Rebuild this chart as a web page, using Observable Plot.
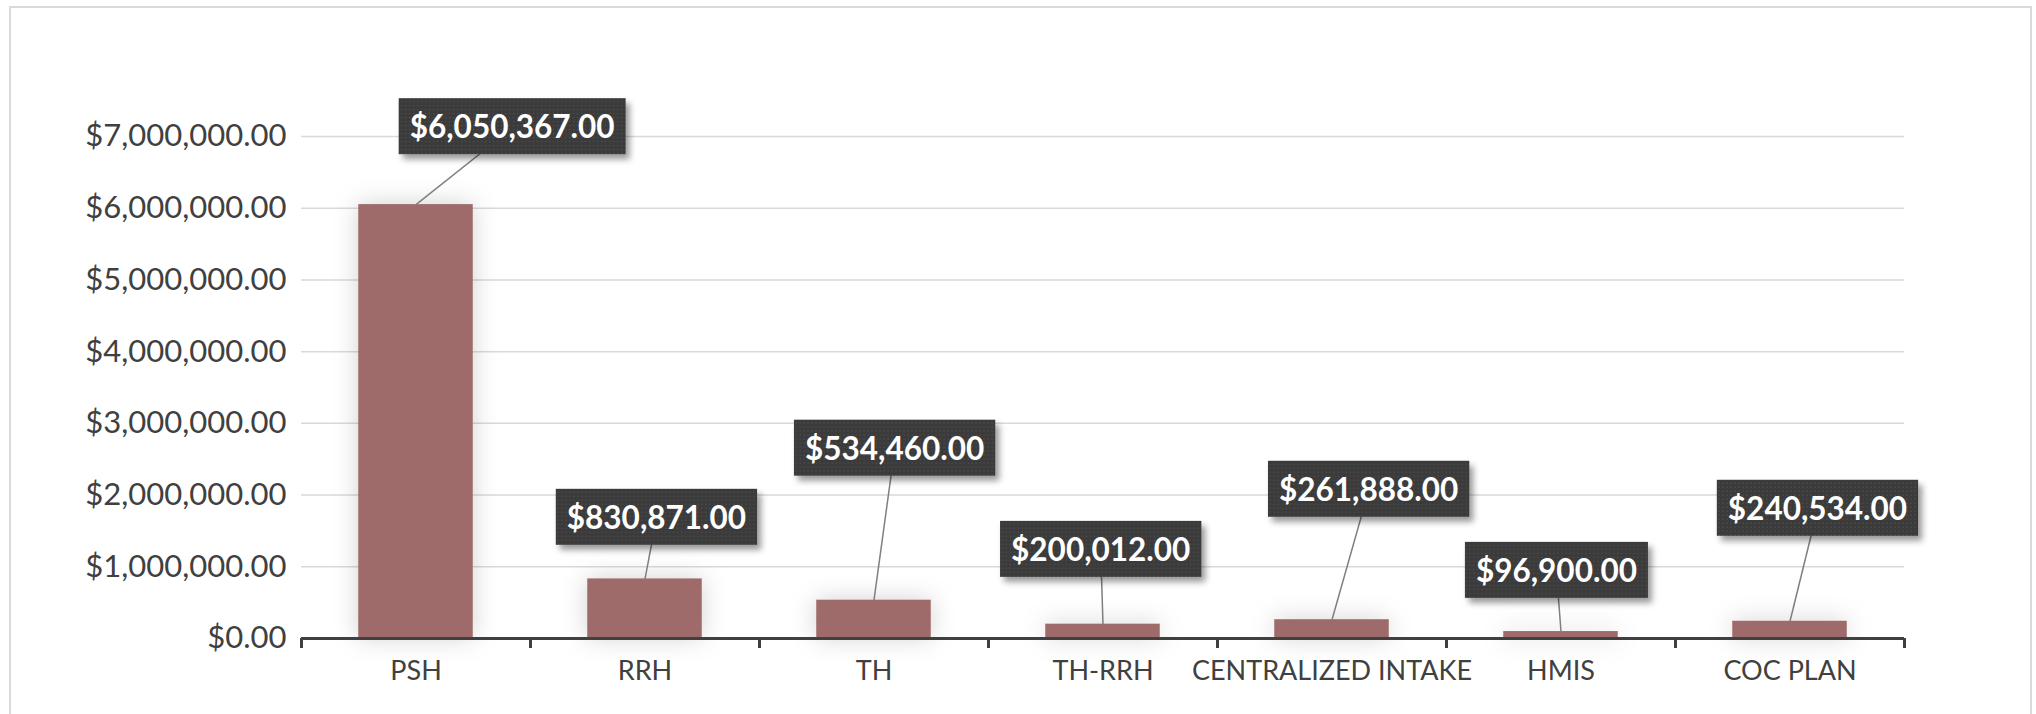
<!DOCTYPE html>
<html>
<head>
<meta charset="utf-8">
<script src="https://cdn.jsdelivr.net/npm/d3@7"></script>
<script src="https://cdn.jsdelivr.net/npm/@observablehq/plot@0.6"></script>
<style>
  html, body { margin: 0; padding: 0; background: #fff; overflow: hidden; }
  #wrap { position: relative; width: 2036px; height: 714px; }
  #frame { position: absolute; left: 9px; top: 6px; width: 2023px; height: 760px; border: 2px solid #d9d9d9; box-sizing: border-box; pointer-events: none; }
</style>
</head>
<body>
<div id="wrap"><div id="frame"></div></div>
<script>
// ---- data ----
const categories = ["PSH", "RRH", "TH", "TH-RRH", "CENTRALIZED INTAKE", "HMIS", "COC PLAN"];
const amounts = [6050367, 830871, 534460, 200012, 261888, 96900, 240534];
const yTicks = [0, 1000000, 2000000, 3000000, 4000000, 5000000, 6000000, 7000000];
// data-label placement (category units / dollar units), as placed in the source chart
const labelOffset = [0.42, 0.05, 0.09, -0.01, 0.16, -0.02, 0.12];
const labelLevel = [7117000, 1670000, 2634000, 1223000, 2061000, 930000, 1796000];

const money = d3.format("$,.2f");
const rows = categories.map((c, i) => ({
  i, category: c, amount: amounts[i],
  lx: i + labelOffset[i], ly: labelLevel[i]
}));
const bounds = d3.range(categories.length + 1).map(k => k - 0.5);

const chart = Plot.plot({
  width: 2036,
  height: 714,
  marginLeft: 301,
  marginRight: 132,
  marginTop: 136,
  marginBottom: 76,
  style: { fontFamily: "Lato, 'Open Sans', sans-serif", background: "transparent", color: "#595959" },
  x: { type: "linear", domain: [-0.5, categories.length - 0.5], axis: null },
  y: { type: "linear", domain: [0, 7000000], axis: null },
  marks: [
    Plot.gridY(yTicks.slice(1), { stroke: "#d9d9d9", strokeOpacity: 1, strokeWidth: 1.5 }),
    Plot.rect(rows, { x1: d => d.i - 0.25, x2: d => d.i + 0.25, y1: 0, y2: "amount", fill: "#9e6a6a" }),
    Plot.ruleY([0], { stroke: "#404040", strokeWidth: 3 }),
    Plot.ruleX(bounds, { y1: 0, y2: 0, insetBottom: -10, stroke: "#404040", strokeWidth: 3 }),
    Plot.axisX(d3.range(categories.length), {
      tickFormat: i => categories[i], tickSize: 0, tickPadding: 22,
      fontSize: 27, fill: "#404040", label: null
    }),
    Plot.axisY(yTicks, {
      tickFormat: money, tickSize: 0, tickPadding: 15,
      fontSize: 31, fill: "#404040", label: null
    }),
    Plot.link(rows, { x1: "lx", y1: "ly", x2: "i", y2: "amount", stroke: "#7f7f7f", strokeWidth: 1.5 }),
    Plot.text(rows, {
      x: "lx", y: "ly", text: d => money(d.amount),
      fill: "white", fontWeight: "bold", fontSize: 31.5
    })
  ]
});

document.getElementById("wrap").prepend(chart);

// defs: dotted label fill, shadows
const svg = d3.select(chart);
const defs = svg.insert("defs", ":first-child");
const pat = defs.append("pattern").attr("id", "dots").attr("width", 4).attr("height", 4)
  .attr("patternUnits", "userSpaceOnUse");
pat.append("rect").attr("width", 4).attr("height", 4).attr("fill", "#3a3a3a");
pat.append("rect").attr("x", 1).attr("y", 1).attr("width", 1).attr("height", 1).attr("fill", "#5a5a5a");
const f1 = defs.append("filter").attr("id", "boxShadow").attr("x", "-20%").attr("y", "-40%").attr("width", "150%").attr("height", "190%");
f1.append("feDropShadow").attr("dx", 4).attr("dy", 5).attr("stdDeviation", 3)
  .attr("flood-color", "#000").attr("flood-opacity", 0.4);
const f2 = defs.append("filter").attr("id", "barGlow").attr("x", "-50%").attr("y", "-50%").attr("width", "200%").attr("height", "200%");
f2.append("feDropShadow").attr("dx", 0).attr("dy", 0).attr("stdDeviation", 12)
  .attr("flood-color", "#000").attr("flood-opacity", 0.18);

svg.selectAll('g[aria-label="rect"]').attr("filter", "url(#barGlow)");

// label boxes sized from the rendered label text
svg.selectAll('g[aria-label="text"] text').each(function () {
  const b = this.getBBox();
  const padX = 11, padY = 9;
  const r = document.createElementNS("http://www.w3.org/2000/svg", "rect");
  r.setAttribute("x", b.x - padX);
  r.setAttribute("y", b.y - padY);
  r.setAttribute("width", b.width + 2 * padX);
  r.setAttribute("height", b.height + 2 * padY);
  r.setAttribute("fill", "url(#dots)");
  r.setAttribute("filter", "url(#boxShadow)");
  const t = this.getAttribute("transform");
  if (t) r.setAttribute("transform", t);
  this.parentNode.insertBefore(r, this);
});
</script>
</body>
</html>
